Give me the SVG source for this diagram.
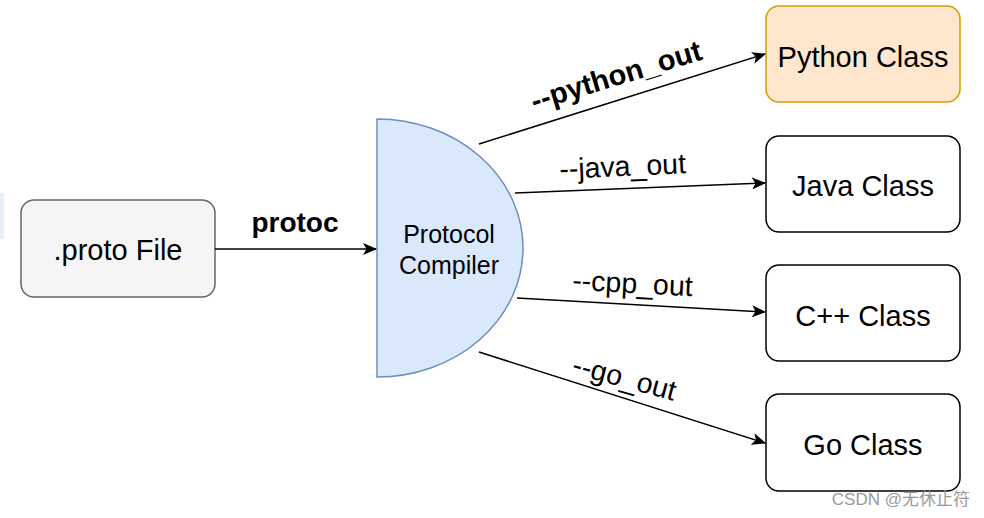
<svg xmlns="http://www.w3.org/2000/svg" width="984" height="518" viewBox="0 0 984 518">
<style>
.lbl{font-family:"Liberation Sans",Arial,sans-serif;fill:#000;text-anchor:middle}
.box{fill:#fff;stroke:#000;stroke-width:1.5}
.edge{stroke:#000;stroke-width:1.5;fill:none}
</style>
<defs>
<marker id="ah" markerWidth="14" markerHeight="12" refX="13" refY="6" orient="auto" markerUnits="userSpaceOnUse">
<path d="M0,0 L14,6 L0,12 L3.5,6 Z" fill="#000"/>
</marker>
</defs>
<rect width="984" height="518" fill="#fff"/>
<rect x="-4" y="193" width="8" height="46" rx="3" fill="#e8eef5"/>
<g id="proto">
<rect x="21" y="200" width="194" height="97" rx="13" fill="#f5f5f5" stroke="#666" stroke-width="1.5"/>
<text class="lbl" x="118" y="260" font-size="29" fill="#333">.proto File</text>
</g>
<g id="compiler">
<path d="M377,119 A146,129 0 0 1 377,377 Z" fill="#dae8fc" stroke="#6c8ebf" stroke-width="1.5"/>
<text class="lbl" x="449" y="243" font-size="25">Protocol</text>
<text class="lbl" x="449" y="274" font-size="25">Compiler</text>
</g>
<g id="python">
<rect x="766" y="6" width="194" height="96" rx="13" fill="#ffe6cc" stroke="#d79b00" stroke-width="1.5"/>
<text class="lbl" x="863" y="67" font-size="29">Python Class</text>
</g>
<g id="java">
<rect class="box" x="766" y="136" width="194" height="96" rx="13"/>
<text class="lbl" x="863" y="196" font-size="29">Java Class</text>
</g>
<g id="cpp">
<rect class="box" x="766" y="265" width="194" height="96" rx="13"/>
<text class="lbl" x="863" y="326" font-size="29">C++ Class</text>
</g>
<g id="go">
<rect class="box" x="766" y="394" width="194" height="97" rx="13"/>
<text class="lbl" x="863" y="455" font-size="29">Go Class</text>
</g>
<g id="connectors">
<line class="edge" x1="215" y1="249" x2="376" y2="249" marker-end="url(#ah)"/>
<text class="lbl" x="295" y="232" font-size="28" font-weight="bold">protoc</text>
<line class="edge" x1="479" y1="144" x2="765" y2="54" marker-end="url(#ah)"/>
<text class="lbl" font-size="29" font-weight="bold" transform="translate(619,85) rotate(-17)">--python_out</text>
<line class="edge" x1="515" y1="193" x2="765" y2="183" marker-end="url(#ah)"/>
<text class="lbl" font-size="28.5" transform="translate(623,176) rotate(-2.5)">--java_out</text>
<line class="edge" x1="517" y1="298" x2="765" y2="312" marker-end="url(#ah)"/>
<text class="lbl" font-size="28.5" transform="translate(632,293) rotate(3)">--cpp_out</text>
<line class="edge" x1="479" y1="352" x2="765" y2="443" marker-end="url(#ah)"/>
<text class="lbl" font-size="28.5" transform="translate(622,387) rotate(15)">--go_out</text>
</g>
<text x="970" y="505" font-size="17" fill="#999" text-anchor="end" font-family="'Liberation Sans','Noto Sans CJK SC',sans-serif">CSDN @无休止符</text>
</svg>
